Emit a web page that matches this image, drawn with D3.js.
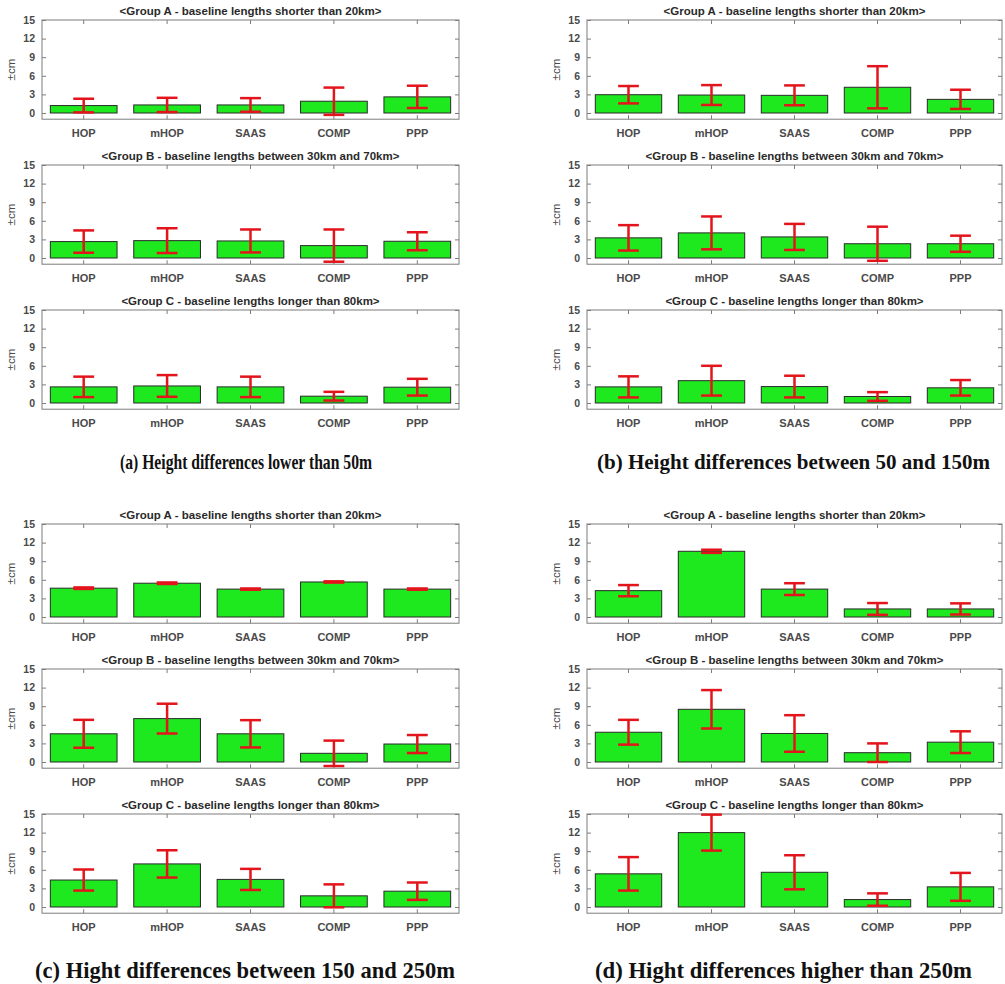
<!DOCTYPE html>
<html><head><meta charset="utf-8">
<script src="https://cdn.jsdelivr.net/npm/d3@7"></script>
<style>
html,body{margin:0;padding:0;background:#fff;}
svg{display:block;}
</style></head>
<body>
<svg id="chart" width="1005" height="984"></svg>
<script>
const categories = ["HOP","mHOP","SAAS","COMP","PPP"];
const yTicks = [0,3,6,9,12,15];
const groupTitles = [
  "<Group A - baseline lengths shorter than 20km>",
  "<Group B - baseline lengths between 30km and 70km>",
  "<Group C - baseline lengths longer than 80km>"
];
const captions = [
  "(a) Height differences lower than 50m",
  "(b) Height differences between 50 and 150m",
  "(c) Hight differences between 150 and 250m",
  "(d) Hight differences higher than 250m"
];
// Panel (a): mean and error half-width per group (A, B, C)
const meanA = [[1.2,1.3,1.3,1.9,2.6],[2.65,2.8,2.75,2.0,2.7],[2.6,2.75,2.6,1.1,2.55]];
const errA  = [[1.1,1.15,1.1,2.2,1.8],[1.8,2.0,1.85,2.6,1.45],[1.65,1.75,1.65,0.7,1.35]];
// Panel (b)
const meanB = [[2.95,2.9,2.85,4.15,2.2],[3.25,4.05,3.4,2.3,2.3],[2.6,3.6,2.65,1.05,2.45]];
const errB  = [[1.4,1.6,1.6,3.4,1.55],[2.05,2.65,2.1,2.75,1.3],[1.7,2.4,1.75,0.7,1.25]];
// Panel (c)
const meanC = [[4.65,5.45,4.5,5.65,4.5],[4.55,7.0,4.55,1.4,2.9],[4.35,6.95,4.45,1.8,2.55]];
const errC  = [[0.12,0.12,0.1,0.1,0.1],[2.25,2.4,2.2,2.05,1.45],[1.7,2.2,1.7,1.85,1.4]];
// Panel (d)
const meanD = [[4.25,10.6,4.5,1.3,1.3],[4.8,8.5,4.6,1.5,3.2],[5.35,12.0,5.6,1.2,3.25]];
const errD  = [[0.9,0.25,0.95,0.95,0.9],[2.0,3.1,2.95,1.5,1.75],[2.7,2.9,2.75,1.0,2.25]];

const panels = [
  {means: meanA, errs: errA, caption: captions[0]},
  {means: meanB, errs: errB, caption: captions[1]},
  {means: meanC, errs: errC, caption: captions[2]},
  {means: meanD, errs: errD, caption: captions[3]}
];

// layout
const colLeft = [42, 587];
const colRight = [459, 1002];
const rowTop15 = [[20,165,310],[524,669,814]];
const unitPx = 93/15;
const captionBaseline = [469, 978];
const captionSpan = [[120,372],[597,990],[35,455],[595,972]];
const captionSize = [21, 21, 23, 23];

const svg = d3.select("#chart");
const boxColor = "#7c7c7c";
const textColor = "#4a4a4a";
const sans = "Liberation Sans, Arial, sans-serif";

panels.forEach((p, pi) => {
  const col = pi % 2, row = Math.floor(pi / 2);
  p.means.forEach((vals, gi) => {
    const top = rowTop15[row][gi];
    const x = d3.scaleBand().domain(categories).range([colLeft[col], colRight[col]]).paddingInner(0).paddingOuter(0);
    const y = d3.scaleLinear().domain([-1, 15]).range([top + 16*unitPx, top]);
    const g = svg.append("g");
    const bw = x.bandwidth();
    const barW = bw * 0.8;
    const capW = bw * 0.25;
    const data = categories.map((c, i) => ({c, m: vals[i], e: p.errs[gi][i]}));

    g.selectAll("rect.bar").data(data).enter().append("rect")
      .attr("x", d => x(d.c) + (bw - barW)/2)
      .attr("y", d => y(d.m))
      .attr("width", barW)
      .attr("height", d => y(0) - y(d.m))
      .attr("fill", "#1ee81e")
      .attr("stroke", "#2a2a2a")
      .attr("stroke-width", 1);

    g.append("rect")
      .attr("x", colLeft[col]).attr("y", y(15))
      .attr("width", colRight[col] - colLeft[col])
      .attr("height", y(-1) - y(15))
      .attr("fill", "none").attr("stroke", boxColor).attr("stroke-width", 1);

    const yAxis = d3.axisLeft(y).tickValues(yTicks).tickSize(-4).tickPadding(7);
    const ya = g.append("g").attr("transform", `translate(${colLeft[col]},0)`).call(yAxis);
    ya.select(".domain").remove();
    ya.selectAll("line").attr("stroke", boxColor);
    ya.selectAll("text").attr("fill", textColor).style("font-family", sans)
      .style("font-size", "10.5px").style("font-weight", "bold");
    const yAxisR = d3.axisRight(y).tickValues(yTicks).tickSize(-4).tickFormat("");
    const yr = g.append("g").attr("transform", `translate(${colRight[col]},0)`).call(yAxisR);
    yr.select(".domain").remove();
    yr.selectAll("line").attr("stroke", boxColor);

    const xAxis = d3.axisBottom(x).tickSize(-4).tickPadding(10);
    const xa = g.append("g").attr("transform", `translate(0,${y(-1)})`).call(xAxis);
    xa.select(".domain").remove();
    xa.selectAll("line").attr("stroke", boxColor);
    xa.selectAll("text").attr("fill", textColor).style("font-family", sans)
      .style("font-size", "11px").style("font-weight", "bold");
    const xAxisT = d3.axisTop(x).tickSize(-4).tickFormat("");
    const xt = g.append("g").attr("transform", `translate(0,${y(15)})`).call(xAxisT);
    xt.select(".domain").remove();
    xt.selectAll("line").attr("stroke", boxColor);

    const red = "#e3141b";
    const eb = g.selectAll("g.eb").data(data).enter().append("g");
    eb.append("line")
      .attr("x1", d => x(d.c) + bw/2).attr("x2", d => x(d.c) + bw/2)
      .attr("y1", d => y(d.m + d.e)).attr("y2", d => y(d.m - d.e))
      .attr("stroke", red).attr("stroke-width", 2.5);
    eb.append("line")
      .attr("x1", d => x(d.c) + bw/2 - capW/2).attr("x2", d => x(d.c) + bw/2 + capW/2)
      .attr("y1", d => y(d.m + d.e)).attr("y2", d => y(d.m + d.e))
      .attr("stroke", red).attr("stroke-width", 2.5);
    eb.append("line")
      .attr("x1", d => x(d.c) + bw/2 - capW/2).attr("x2", d => x(d.c) + bw/2 + capW/2)
      .attr("y1", d => y(d.m - d.e)).attr("y2", d => y(d.m - d.e))
      .attr("stroke", red).attr("stroke-width", 2.5);

    g.append("text")
      .attr("x", (colLeft[col] + colRight[col]) / 2)
      .attr("y", y(15) - 5)
      .attr("text-anchor", "middle")
      .attr("fill", "#2a2a2a")
      .style("font-family", sans)
      .style("font-size", "11.5px").style("font-weight", "bold")
      .text(groupTitles[gi]);

    const yl = colLeft[col] - 27;
    const ym = (y(15) + y(-1)) / 2;
    g.append("text")
      .attr("transform", `translate(${yl},${ym}) rotate(-90)`)
      .attr("text-anchor", "middle")
      .attr("fill", textColor)
      .style("font-family", sans)
      .style("font-size", "11.5px")
      .text("\u00B1cm");
  });

  const span = captionSpan[pi];
  svg.append("text")
    .attr("x", span[0]).attr("y", captionBaseline[row])
    .attr("textLength", span[1] - span[0])
    .attr("lengthAdjust", "spacingAndGlyphs")
    .attr("fill", "#111")
    .style("font-family", "Liberation Serif, Times New Roman, serif")
    .style("font-size", captionSize[pi] + "px").style("font-weight", "bold")
    .text(p.caption);
});
</script>
</body></html>
